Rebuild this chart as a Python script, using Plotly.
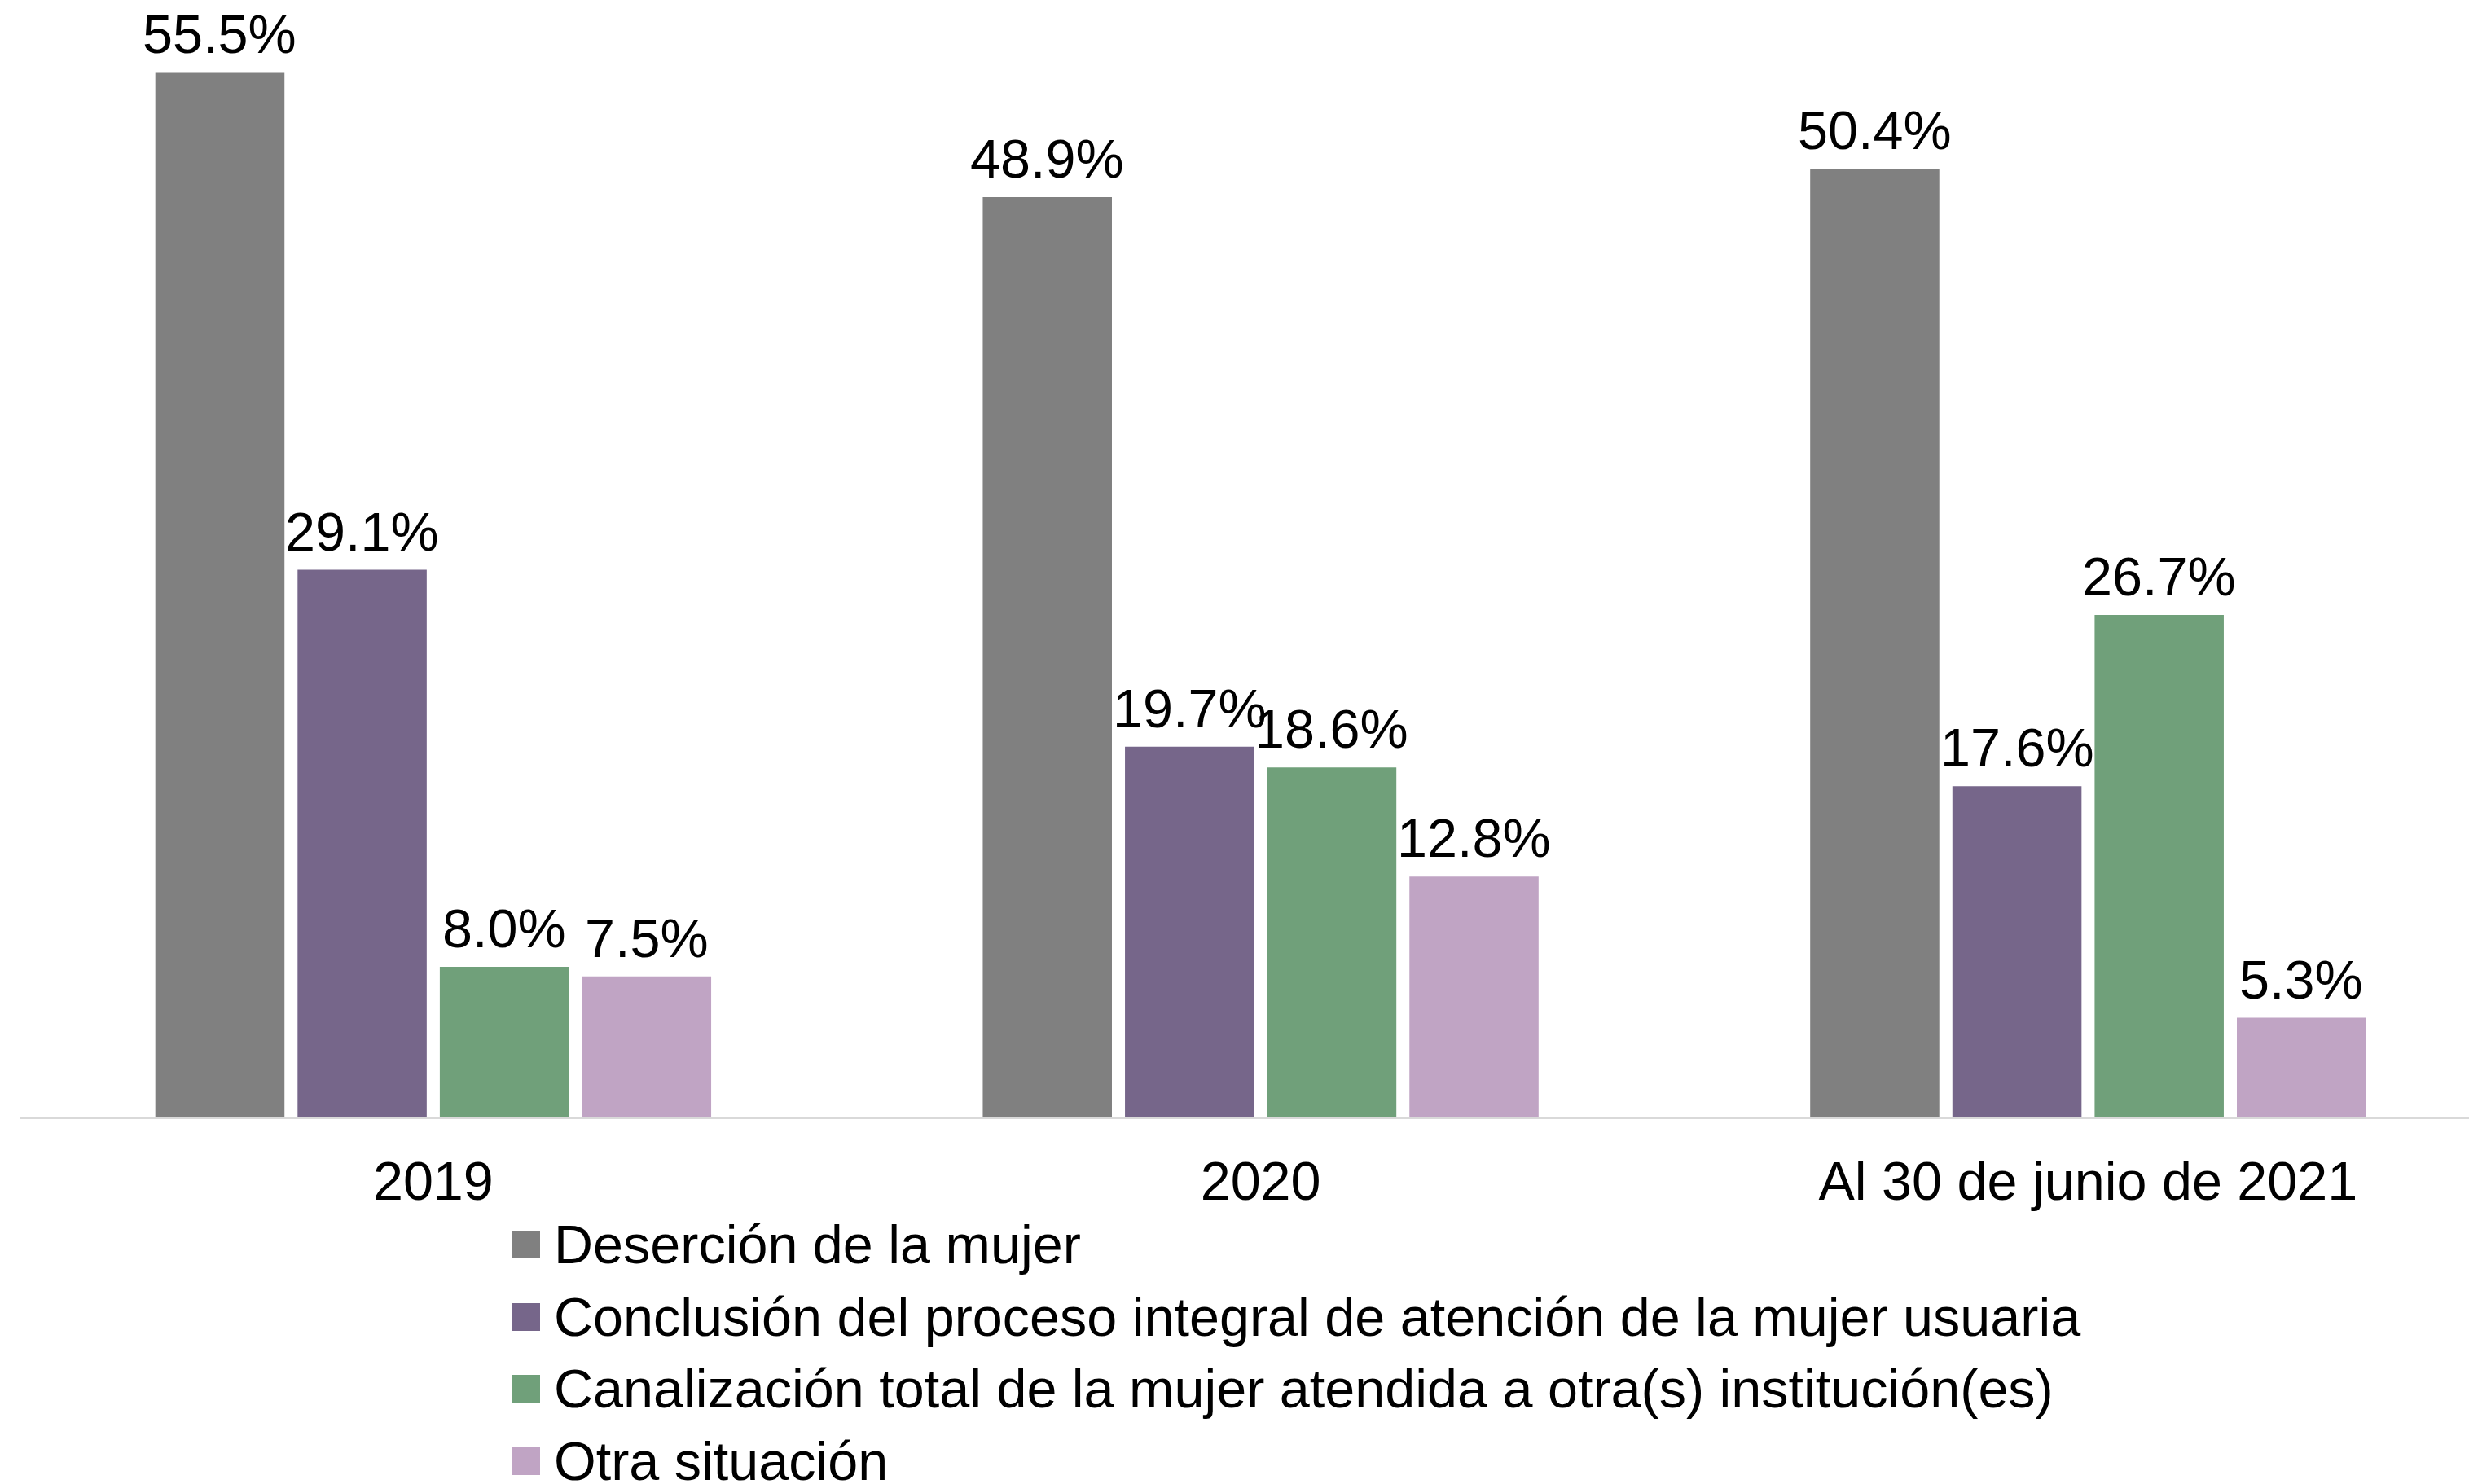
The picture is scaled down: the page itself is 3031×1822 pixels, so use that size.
import plotly.graph_objects as go

# Categories and series
categories = ["2019", "2020", "Al 30 de junio de 2021"]
series_names = [
    "Deserción de la mujer",
    "Conclusión del proceso integral de atención de la mujer usuaria",
    "Canalización total de la mujer atendida a otra(s) institución(es)",
    "Otra situación",
]
desercion = [55.5, 48.9, 50.4]
conclusion = [29.1, 19.7, 17.6]
canalizacion = [8.0, 18.6, 26.7]
otra = [7.5, 12.8, 5.3]

series_values = [desercion, conclusion, canalizacion, otra]
colors = ["#808080", "#76668A", "#70A07A", "#C0A4C4"]

W, H = 3031, 1822
L, T, R, B = 24, 0, 0, 450
plot_w = W - L - R
plot_h = H - T - B
px_per_cat = 1015.75
px_per_pct = 23.11
bargap = 0.3124
bargroupgap = 0.092
font_family = "Liberation Sans, Arial, sans-serif"
font_size = 66.5

fig = go.Figure()
for name, vals, col in zip(series_names, series_values, colors):
    fig.add_trace(go.Bar(
        x=categories, y=vals, name=name,
        marker=dict(color=col, line=dict(width=0)),
        showlegend=False, hoverinfo="skip",
    ))

# value labels above each bar
n = len(series_values)
slot = (1 - bargap) / n
annotations = []
for i, vals in enumerate(series_values):
    for j, v in enumerate(vals):
        annotations.append(dict(
            x=j + (i - (n - 1) / 2) * slot, y=v, xref="x", yref="y",
            text=f"{v:.1f}%", showarrow=False,
            xanchor="center", yanchor="bottom", yshift=8,
            font=dict(family=font_family, size=font_size, color="black"),
        ))


def to_paper(px, py):
    return (px - L) / plot_w, (plot_h + T - py) / plot_h


# legend drawn as squares and labels below the axis
shapes = []
row_centers = [1528, 1617, 1705, 1794]
for name, col, cy in zip(series_names, colors, row_centers):
    x0, y0 = to_paper(629, cy + 17)
    x1, y1 = to_paper(663, cy - 17)
    shapes.append(dict(type="rect", xref="paper", yref="paper",
                       x0=x0, x1=x1, y0=y0, y1=y1,
                       fillcolor=col, line=dict(width=0)))
    tx, ty = to_paper(678, cy)
    annotations.append(dict(
        x=tx, y=ty, xref="paper", yref="paper", text=name, showarrow=False,
        xanchor="left", yanchor="middle",
        font=dict(family=font_family, size=font_size, color="black"),
    ))

fig.update_layout(
    width=W, height=H,
    margin=dict(l=L, r=R, t=T, b=B, pad=0),
    paper_bgcolor="white", plot_bgcolor="white",
    barmode="group", bargap=bargap, bargroupgap=bargroupgap,
    font=dict(family=font_family, size=font_size, color="black"),
    annotations=annotations, shapes=shapes,
    showlegend=False,
)
fig.update_xaxes(
    type="category",
    range=[-0.5, -0.5 + plot_w / px_per_cat],
    showline=True, linecolor="#D9D9D9", linewidth=2,
    showgrid=False, ticks="", ticklabelstandoff=19,
    tickfont=dict(family=font_family, size=font_size, color="black"),
)
fig.update_yaxes(
    range=[0, plot_h / px_per_pct],
    visible=False, showgrid=False, zeroline=False,
)

fig.write_html("out.html")
